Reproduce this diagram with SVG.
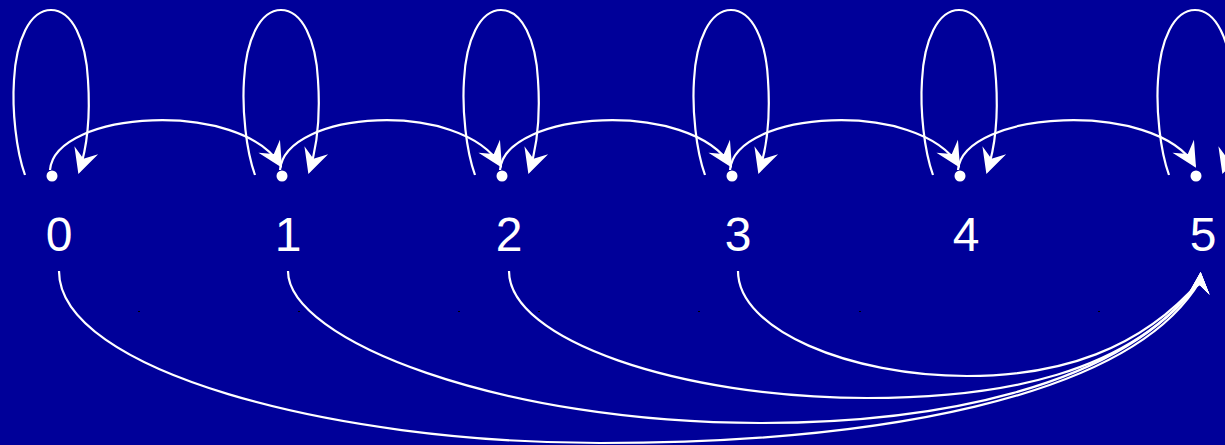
<svg xmlns="http://www.w3.org/2000/svg" width="1225" height="445" viewBox="0 0 1225 445">
<style>
.edge{fill:none;stroke:#ffffff;stroke-width:2.2}
.dot{fill:#ffffff}
.lbl{font-family:"Liberation Sans",Arial,sans-serif;font-size:48px;fill:#ffffff;text-anchor:middle}
.speck{fill:#000000}
</style>
<defs>
<marker id="ah" markerUnits="userSpaceOnUse" markerWidth="34" markerHeight="30" viewBox="-28 -15 34 30" refX="0" refY="0" orient="auto" overflow="visible">
<path d="M2,0 L-23,-12.5 L-14,0 L-23,12.5 Z" fill="#ffffff"/>
</marker>
<marker id="ah5" markerUnits="userSpaceOnUse" markerWidth="32" markerHeight="28" viewBox="-20 -14 32 28" refX="0" refY="0" orient="-86" overflow="visible">
<path d="M9,0 L-13,-10.5 L-4,0 L-13,10.5 Z" fill="#ffffff"/>
</marker>
</defs>
<rect x="0" y="0" width="1225" height="445" fill="#000099"/>
<g id="connectors">
<path class="edge" marker-end="url(#ah)" d="M25,175 C16,150 12,110 14,80 C16,40 30,10 51,10 C72,10 86,40 88,80 C90,110 88,145 79,172"/>
<path class="edge" marker-end="url(#ah)" d="M255,175 C246,150 242,110 244,80 C246,40 260,10 281,10 C302,10 316,40 318,80 C320,110 318,145 309,172"/>
<path class="edge" marker-end="url(#ah)" d="M475,175 C466,150 462,110 464,80 C466,40 480,10 501,10 C522,10 536,40 538,80 C540,110 538,145 529,172"/>
<path class="edge" marker-end="url(#ah)" d="M705,175 C696,150 692,110 694,80 C696,40 710,10 731,10 C752,10 766,40 768,80 C770,110 768,145 759,172"/>
<path class="edge" marker-end="url(#ah)" d="M933,175 C924,150 920,110 922,80 C924,40 938,10 959,10 C980,10 994,40 996,80 C998,110 996,145 987,172"/>
<path class="edge" marker-end="url(#ah)" d="M1169,175 C1160,150 1156,110 1158,80 C1160,40 1174,10 1195,10 C1216,10 1230,40 1232,80 C1234,110 1232,145 1223,172"/>
<path class="edge" marker-end="url(#ah)" d="M50,170 C55,110 241,99 281,166"/>
<path class="edge" marker-end="url(#ah)" d="M280,170 C285,110 461,99 501,166"/>
<path class="edge" marker-end="url(#ah)" d="M500,170 C505,110 691,99 731,166"/>
<path class="edge" marker-end="url(#ah)" d="M730,170 C735,110 919,99 959,166"/>
<path class="edge" marker-end="url(#ah)" d="M958,170 C963,110 1155,99 1195,166"/>
<path class="edge" marker-end="url(#ah5)" d="M59,271 C59,370 330,443 600,443 C870,443 1130,400 1200,281"/>
<path class="edge" marker-end="url(#ah5)" d="M288,271 C288,340 500,423 760,423 C930,423 1120,390 1200,281"/>
<path class="edge" marker-end="url(#ah5)" d="M509,271 C509,340 680,398 867,398 C1000,398 1130,375 1200,281"/>
<path class="edge" marker-end="url(#ah5)" d="M738,271 C738,330 850,376 967,376 C1060,376 1140,350 1200,281"/>
</g>
<g id="n0"><circle class="dot" cx="52" cy="176" r="5.5"/><text class="lbl" x="59" y="251">0</text></g>
<g id="n1"><circle class="dot" cx="282" cy="176" r="5.5"/><text class="lbl" x="288" y="251">1</text></g>
<g id="n2"><circle class="dot" cx="502" cy="176" r="5.5"/><text class="lbl" x="509" y="251">2</text></g>
<g id="n3"><circle class="dot" cx="732" cy="176" r="5.5"/><text class="lbl" x="738" y="251">3</text></g>
<g id="n4"><circle class="dot" cx="960" cy="176" r="5.5"/><text class="lbl" x="966" y="251">4</text></g>
<g id="n5"><circle class="dot" cx="1196" cy="176" r="5.5"/><text class="lbl" x="1203" y="251">5</text></g>
<g id="specks">
<rect class="speck" x="138" y="311" width="2" height="1"/>
<rect class="speck" x="298" y="311" width="2" height="1"/>
<rect class="speck" x="458" y="311" width="2" height="1"/>
<rect class="speck" x="538" y="311" width="2" height="1"/>
<rect class="speck" x="698" y="311" width="2" height="1"/>
<rect class="speck" x="859" y="311" width="2" height="1"/>
<rect class="speck" x="1098" y="311" width="2" height="1"/>
</g>
</svg>
